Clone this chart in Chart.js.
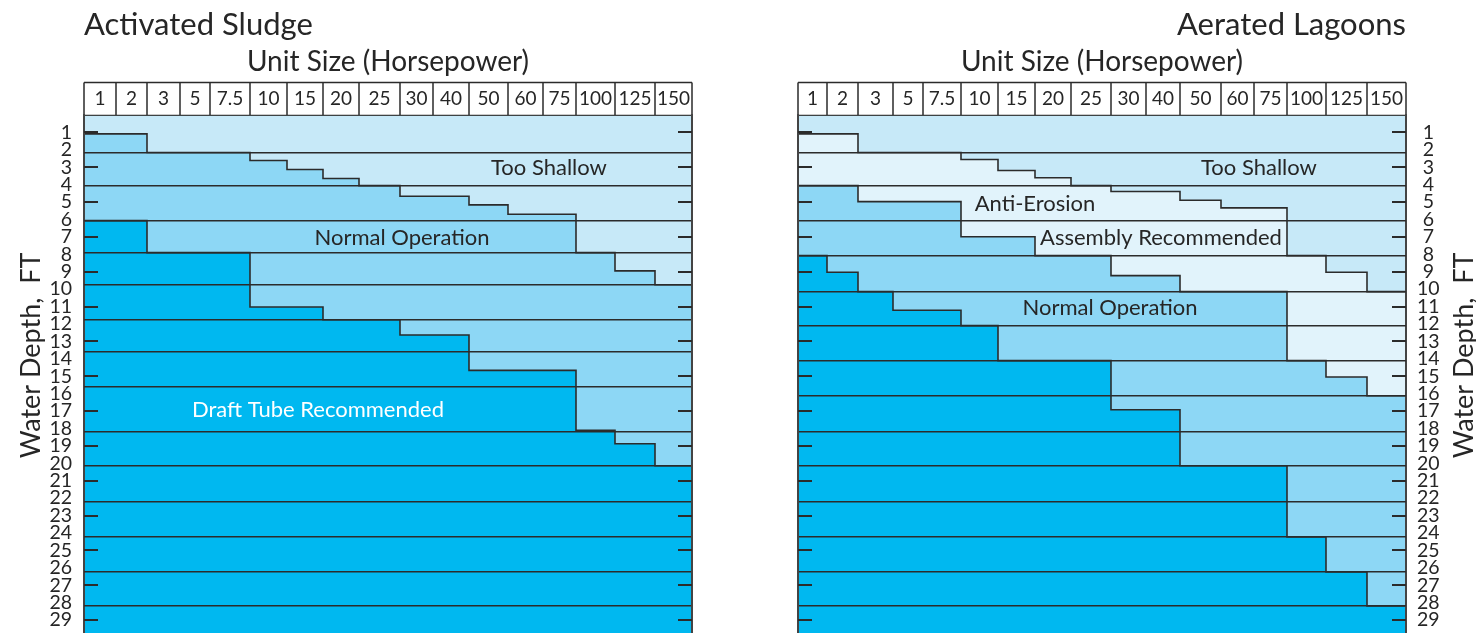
<!DOCTYPE html>
<html><head><meta charset="utf-8">
<script src="https://cdn.jsdelivr.net/npm/chart.js@4.4.1/dist/chart.umd.min.js"></script>
<style>
html,body{margin:0;padding:0;background:#fff;}
#wrap{position:relative;width:1476px;height:633px;overflow:hidden;background:#fff;}
canvas{position:absolute;top:0;}
</style></head>
<body>
<div id="wrap">
<canvas id="c1" width="738" height="633" style="left:0px"></canvas>
<canvas id="c2" width="738" height="633" style="left:738px"></canvas>
</div>
<script>
// ---------------- data ----------------
const hpLabels = ['1','2','3','5','7.5','10','15','20','25','30','40','50','60','75','100','125','150'];
const depthTicks = [1,2,3,4,5,6,7,8,9,10,11,12,13,14,15,16,17,18,19,20,21,22,23,24,25,26,27,28,29];

// Activated Sludge (depths in ft, one value per unit-size column)
const sludgeBands = [2.15, 4.05, 6.06, 7.9, 9.74, 11.75, 13.59, 15.6, 18.18, 20.14, 22.21, 24.22, 26.23, 28.18];
const sludgeShallowLimit = [1.08, 1.08, 2.15, 2.15, 2.15, 2.61, 3.13, 3.64, 4.05, 4.66, 4.66, 5.16, 5.7, 5.7, 7.9, 8.95, 9.74];
const sludgeDraftTubeLimit = [6.06, 6.06, 7.9, 7.9, 7.9, 11.02, 11.02, 11.75, 11.75, 12.63, 12.63, 14.66, 14.66, 14.66, 18.1, 18.87, 20.14];

// Aerated Lagoons
const lagoonBands = [2.15, 4.05, 6.06, 8.07, 10.14, 12.09, 14.1, 16.12, 18.18, 20.14, 22.21, 24.22, 26.23, 28.18];
const lagoonShallowLimit = [1.08, 1.08, 2.15, 2.15, 2.15, 2.55, 3.18, 3.6, 4.05, 4.39, 4.39, 4.89, 5.33, 5.33, 8.07, 9.03, 10.14];
const lagoonAntiErosionLimit = [4.05, 4.05, 4.97, 4.97, 4.97, 6.99, 6.99, 8.07, 8.07, 9.22, 9.22, 10.14, 10.14, 10.14, 14.1, 15.04, 16.12];
const lagoonDraftTubeLimit = [8.07, 9.03, 10.14, 11.21, 11.21, 12.09, 14.1, 14.1, 14.1, 16.92, 16.92, 20.14, 20.14, 20.14, 24.22, 26.23, 28.18];

// ---------------- layout / style ----------------
const FONT = 'Lato, "Open Sans", sans-serif';
const INK = '#262626';
const RULE = '#2b2b2b';
const C_SHALLOW = '#c7e9f8', C_ANTI = '#e1f3fb', C_NORMAL = '#8dd7f5', C_DRAFT = '#00b8f0';
const DEPTH_MIN = 0.02, DEPTH_MAX = 29.74;
const HEADER_H = 33;

function cumulative(widths){ const e=[0]; widths.forEach(w=>e.push(e[e.length-1]+w)); return e; }
function stepLine(edges, limits){
  const pts = limits.map((v,i)=>({x:edges[i], y:v}));
  pts.push({x:edges[edges.length-1], y:limits[limits.length-1]});
  return pts;
}

function makePanel(canvas, p){
  const edges = cumulative(p.colWidths);
  const total = edges[edges.length-1];
  const centers = p.colWidths.map((w,i)=>edges[i]+w/2);
  const colPos = c => { const i = Math.min(Math.floor(c), p.colWidths.length-1); return edges[i] + (c-i)*p.colWidths[i]; };

  const datasets = [];
  p.limits.forEach((lim,i)=>{
    datasets.push({label:p.regions[i], data:stepLine(edges, lim), stepped:true,
      fill: i===0 ? 'end' : '-1', backgroundColor:p.colors[i], borderColor:RULE, borderWidth:1.6,
      pointRadius:0, pointHoverRadius:0, tension:0});
  });
  const k = p.limits.length;
  datasets.push({label:p.regions[k], data:stepLine(edges, p.limits[k-1]), stepped:true,
    fill:'start', backgroundColor:p.colors[k], borderColor:'rgba(0,0,0,0)', borderWidth:0,
    pointRadius:0, pointHoverRadius:0, tension:0});

  const leftSide = p.labelSide === 'left';

  const headerPlugin = {
    id:'header',
    beforeDraw(chart){
      const {ctx, chartArea, scales} = chart; const x = scales.x;
      const top = chartArea.top - HEADER_H, bot = chartArea.top;
      ctx.save();
      ctx.fillStyle = '#fff';
      ctx.fillRect(chartArea.left, top, chartArea.right-chartArea.left, HEADER_H);
      ctx.strokeStyle = RULE; ctx.lineWidth = 1.5;
      ctx.beginPath();
      ctx.moveTo(chartArea.left, top); ctx.lineTo(chartArea.right, top);
      ctx.moveTo(chartArea.left, bot); ctx.lineTo(chartArea.right, bot);
      edges.forEach(e=>{ const px = x.getPixelForValue(e); ctx.moveTo(px, top); ctx.lineTo(px, bot); });
      ctx.stroke();
      ctx.restore();
    }
  };

  const decoPlugin = {
    id:'deco',
    afterDraw(chart){
      const {ctx, chartArea, scales} = chart; const x = scales.x, y = scales.y;
      ctx.save();
      // short depth tick marks at odd depths on both edges
      ctx.strokeStyle = RULE; ctx.lineWidth = 1.8;
      ctx.beginPath();
      depthTicks.filter(d=>d%2===1).forEach(d=>{
        const py = Math.round(y.getPixelForValue(d));
        ctx.moveTo(chartArea.left, py); ctx.lineTo(chartArea.left+14, py);
        ctx.moveTo(chartArea.right-14, py); ctx.lineTo(chartArea.right, py);
      });
      ctx.stroke();
      // region labels
      ctx.textAlign = 'center'; ctx.textBaseline = 'middle';
      ctx.font = '22px ' + FONT;
      p.notes.forEach(n=>{
        ctx.fillStyle = n.color;
        ctx.fillText(n.text, x.getPixelForValue(colPos(n.col)), y.getPixelForValue(n.depth));
      });
      // depth axis title (rotated, reading upward)
      ctx.fillStyle = INK; ctx.font = '27px ' + FONT;
      const tx = leftSide ? chartArea.left - 53 : chartArea.right + 58;
      ctx.translate(tx, y.getPixelForValue(13.8));
      ctx.rotate(-Math.PI/2);
      ctx.fillText('Water Depth,  FT', 0, 0);
      ctx.restore();
    }
  };

  return new Chart(canvas, {
    type:'line',
    data:{datasets},
    options:{
      responsive:false, animation:false, devicePixelRatio:1,
      layout:{padding:p.padding},
      events:[],
      plugins:{
        legend:{display:false}, tooltip:{enabled:false},
        title:{display:true, text:p.title, align:p.titleAlign, fullSize:false, color:INK,
          font:{family:FONT, size:31, weight:'normal', lineHeight:1.2}, padding:{top:6, bottom:0}},
        subtitle:{display:true, text:'Unit Size (Horsepower)', align:'center', fullSize:false, color:INK,
          font:{family:FONT, size:28, weight:'normal', lineHeight:1.2}, padding:{top:2.4, bottom:3.4}}
      },
      scales:{
        x:{type:'linear', position:'top', min:0, max:total,
          afterBuildTicks: ax => { ax.ticks = centers.map(v=>({value:v})); },
          ticks:{callback:(v,i)=>hpLabels[i], autoSkip:false, maxRotation:0, minRotation:0,
            font:{family:FONT, size:19}, color:INK, padding:5},
          grid:{display:false, drawTicks:false}, border:{display:false}},
        y:{type:'linear', position:p.labelSide, reverse:true, min:DEPTH_MIN, max:DEPTH_MAX,
          afterBuildTicks: ax => { ax.ticks = depthTicks.map(v=>({value:v})); },
          afterFit: ax => { ax.width = p.labelAxisWidth; ax.paddingTop = 0; ax.paddingBottom = 0; },
          ticks:{callback:v=>String(v), autoSkip:false, font:{family:FONT, size:19.5}, color:INK,
            padding:p.tickPad, crossAlign:p.crossAlign},
          grid:{display:false, drawTicks:false},
          border:{display:true, color:'#444', width:2, z:1}},
        bands:{type:'linear', position: leftSide ? 'right' : 'left', reverse:true, min:DEPTH_MIN, max:DEPTH_MAX,
          afterBuildTicks: ax => { ax.ticks = p.bands.map(v=>({value:v})); },
          afterFit: ax => { ax.width = 0; ax.paddingTop = 0; ax.paddingBottom = 0; },
          ticks:{display:false},
          grid:{display:true, drawTicks:false, color:RULE, lineWidth:1.6, z:1},
          border:{display:true, color:'#444', width:2, z:1}}
      }
    },
    plugins:[headerPlugin, decoPlugin]
  });
}

makePanel(document.getElementById('c1'), {
  title:'Activated Sludge', titleAlign:'start',
  colWidths:[32,31,33,30,40,37,36,36,41,33,36,39,35,33,39,40,37],
  bands:sludgeBands,
  limits:[sludgeShallowLimit, sludgeDraftTubeLimit],
  regions:['Too Shallow','Normal Operation','Draft Tube Recommended'],
  colors:[C_SHALLOW, C_NORMAL, C_DRAFT],
  labelSide:'left', labelAxisWidth:84, tickPad:12, crossAlign:'near',
  padding:{left:0, right:46, top:0, bottom:0},
  notes:[
    {text:'Too Shallow', col:13.18, depth:3.01, color:INK},
    {text:'Normal Operation', col:9.06, depth:7.03, color:INK},
    {text:'Draft Tube Recommended', col:6.86, depth:16.92, color:'#ffffff'}
  ]
});

makePanel(document.getElementById('c2'), {
  title:'Aerated Lagoons', titleAlign:'end',
  colWidths:[29,31,35,30,38,37,37,36,40,35,34,41,33,33,39,41,39],
  bands:lagoonBands,
  limits:[lagoonShallowLimit, lagoonAntiErosionLimit, lagoonDraftTubeLimit],
  regions:['Too Shallow','Anti-Erosion Assembly Recommended','Normal Operation','Draft Tube'],
  colors:[C_SHALLOW, C_ANTI, C_NORMAL, C_DRAFT],
  labelSide:'right', labelAxisWidth:70, tickPad:11, crossAlign:'center',
  padding:{left:60, right:0, top:0, bottom:0},
  notes:[
    {text:'Too Shallow', col:13.15, depth:3.01, color:INK},
    {text:'Anti-Erosion', col:7.0, depth:5.08, color:INK},
    {text:'Assembly Recommended', col:10.44, depth:7.03, color:INK},
    {text:'Normal Operation', col:8.975, depth:11.06, color:INK}
  ]
});
</script>
</body></html>
